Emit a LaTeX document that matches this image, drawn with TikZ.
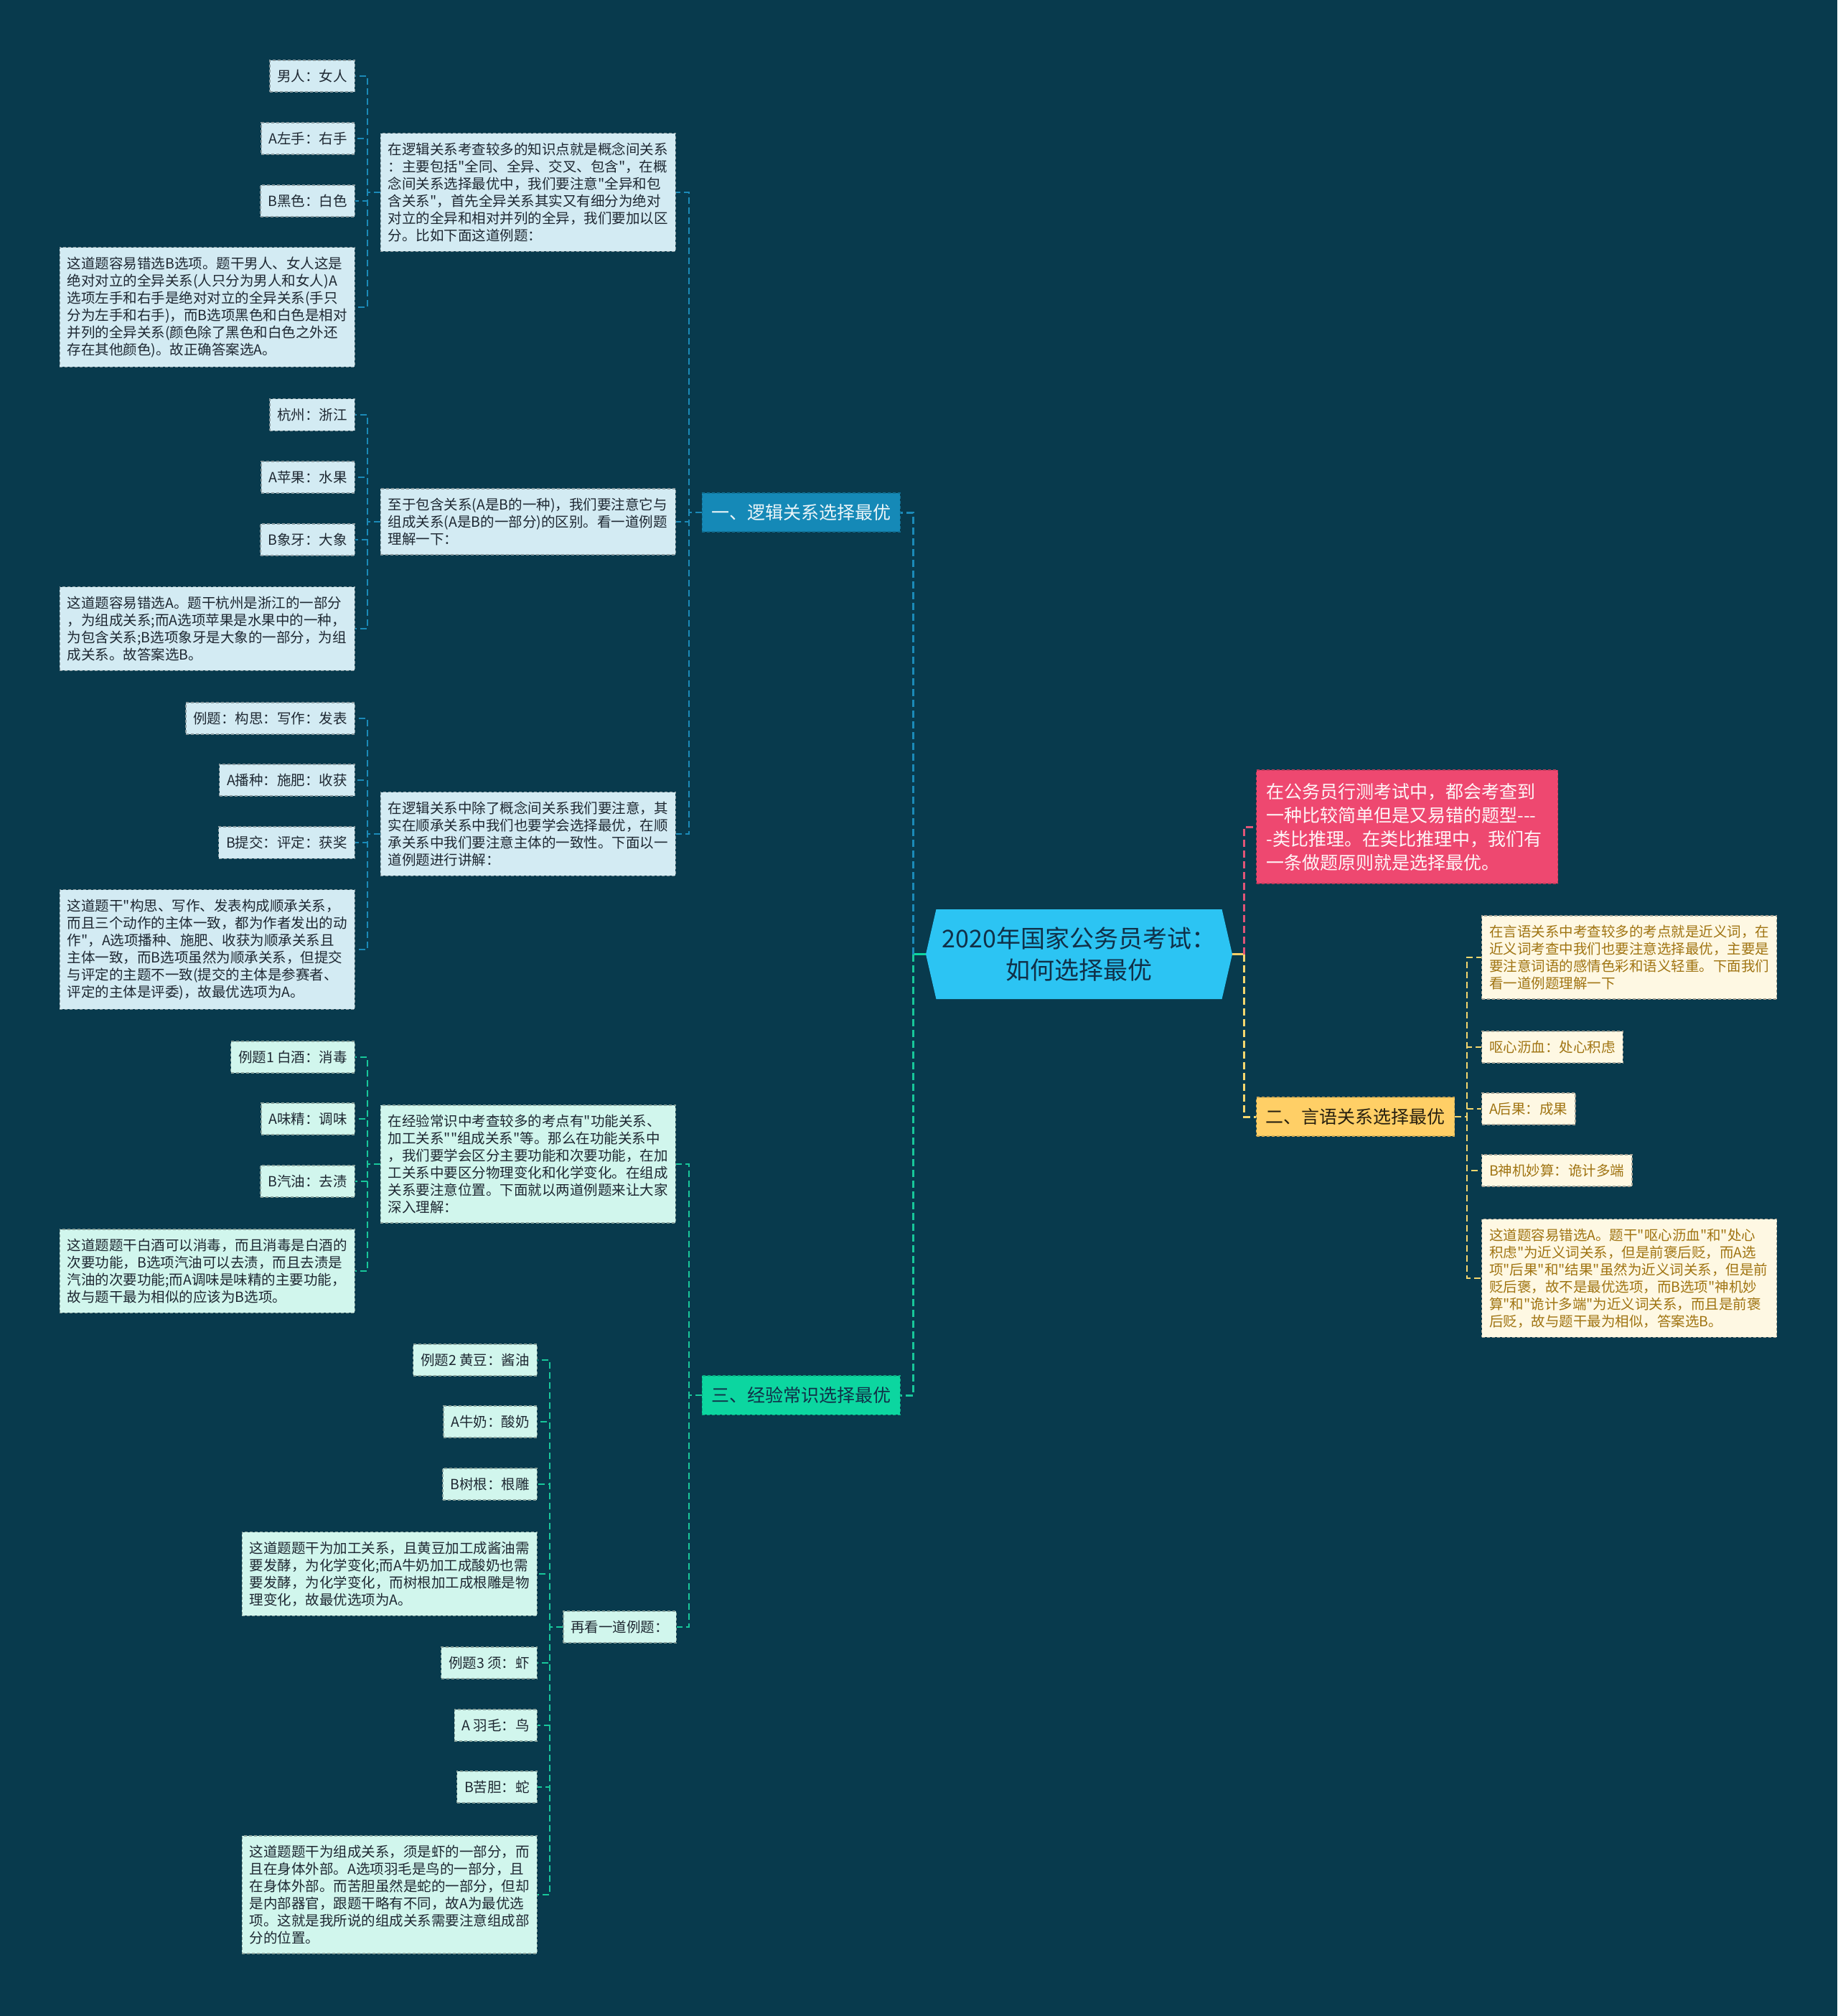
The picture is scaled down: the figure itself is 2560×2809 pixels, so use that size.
\documentclass[tikz,border=0pt]{standalone}
\usepackage{fontspec}
\setmainfont[Ligatures=TeXOff]{Noto Sans CJK SC}
\usetikzlibrary{shapes.symbols,calc}

\definecolor{bgcol}{RGB}{8,58,77}
\definecolor{hubcol}{RGB}{44,196,243}
\definecolor{hubink}{RGB}{16,48,72}
\definecolor{logiccol}{RGB}{21,137,183}
\definecolor{commoncol}{RGB}{12,214,160}
\definecolor{verbalcol}{RGB}{255,207,102}
\definecolor{introcol}{RGB}{238,72,112}
\definecolor{leafblue}{RGB}{211,235,243}
\definecolor{leafmint}{RGB}{209,246,237}
\definecolor{leafcream}{RGB}{254,248,227}
\definecolor{leafink}{RGB}{30,40,50}
\definecolor{creamink}{RGB}{160,116,18}
\definecolor{linered}{RGB}{224,85,119}
\definecolor{lineyellow}{RGB}{245,215,110}
\definecolor{lineblue}{RGB}{27,138,184}
\definecolor{linegreen}{RGB}{24,199,154}

\begin{document}
\begin{tikzpicture}[x=1pt,y=-1pt,
  every node/.style={align=left},
  hub/.style={signal,signal to=west and east,signal pointer angle=154,fill=hubcol,text=hubink,
    minimum width=427pt,minimum height=125pt,align=center,font=\fontsize{34}{44}\selectfont},
  branch/.style={rectangle,fill=#1,draw=#1!80!black,dash pattern=on 4pt off 3pt,line width=1.2pt,
    font=\fontsize{25}{30}\selectfont,inner xsep=13pt,inner ysep=15.5pt},
  lbox/.style={rectangle,fill=#1,draw=#1!65!black,dash pattern=on 4pt off 3pt,line width=1.2pt,
    text=leafink,font=\fontsize{19.5}{24}\selectfont,inner xsep=10.5pt,inner ysep=13pt},
  pbox/.style={lbox=#1,text width=390pt},
  lnk/.style={draw=#1,line width=2pt,dash pattern=on 9pt off 5pt},
  mainlnk/.style={draw=#1,line width=3pt,dash pattern=on 10pt off 5pt}
]
\fill[bgcol] (0,0) rectangle (2560,2809);
\useasboundingbox (0,0) rectangle (2560,2809);

% root and main branches
\node[hub] (root) at (1503.5,1329.5) {2020年国家公务员考试：\\如何选择最优};
\node[branch=logiccol,text=white!92!logiccol,anchor=east] (logic) at (1255,714) {一、逻辑关系选择最优};
\node[branch=commoncol,text=hubink,anchor=east] (common) at (1255,1944) {三、经验常识选择最优};
\node[branch=verbalcol,text=black!85!verbalcol,anchor=west] (verbal) at (1750,1556) {二、言语关系选择最优};
\node[rectangle,fill=introcol,draw=introcol!80!black,dash pattern=on 4pt off 3pt,line width=1.2pt,
  text=white!95!introcol,font=\fontsize{25}{33}\selectfont,text width=392pt,inner xsep=14pt,inner ysep=18pt,
  anchor=west] (intro) at (1750,1152)
  {在公务员行测考试中，都会考查到\\一种比较简单但是又易错的题型{-}{-}{-}\\-类比推理。在类比推理中，我们有\\一条做题原则就是选择最优。};

% logic branch
\node[pbox=leafblue,anchor=east] (p1) at (942,268) {在逻辑关系考查较多的知识点就是概念间关系\\：主要包括"全同、全异、交叉、包含"，在概\\念间关系选择最优中，我们要注意"全异和包\\含关系"，首先全异关系其实又有细分为绝对\\对立的全异和相对并列的全异，我们要加以区\\分。比如下面这道例题：};
\node[pbox=leafblue,anchor=east] (p2) at (942,727) {至于包含关系(A是B的一种)，我们要注意它与\\组成关系(A是B的一部分)的区别。看一道例题\\理解一下：};
\node[pbox=leafblue,anchor=east] (p3) at (942,1162) {在逻辑关系中除了概念间关系我们要注意，其\\实在顺承关系中我们也要学会选择最优，在顺\\承关系中我们要注意主体的一致性。下面以一\\道例题进行讲解：};

\node[lbox=leafblue,anchor=east] (a1) at (495,106) {男人：女人};
\node[lbox=leafblue,anchor=east] (a2) at (495,193) {A左手：右手};
\node[lbox=leafblue,anchor=east] (a3) at (495,280) {B黑色：白色};
\node[pbox=leafblue,anchor=east] (a4) at (495,428) {这道题容易错选B选项。题干男人、女人这是\\绝对对立的全异关系(人只分为男人和女人)A\\选项左手和右手是绝对对立的全异关系(手只\\分为左手和右手)，而B选项黑色和白色是相对\\并列的全异关系(颜色除了黑色和白色之外还\\存在其他颜色)。故正确答案选A。};

\node[lbox=leafblue,anchor=east] (b1) at (495,578) {杭州：浙江};
\node[lbox=leafblue,anchor=east] (b2) at (495,665) {A苹果：水果};
\node[lbox=leafblue,anchor=east] (b3) at (495,752) {B象牙：大象};
\node[pbox=leafblue,anchor=east] (b4) at (495,876) {这道题容易错选A。题干杭州是浙江的一部分\\，为组成关系;而A选项苹果是水果中的一种，\\为包含关系;B选项象牙是大象的一部分，为组\\成关系。故答案选B。};

\node[lbox=leafblue,anchor=east] (c1) at (495,1001) {例题：构思：写作：发表};
\node[lbox=leafblue,anchor=east] (c2) at (495,1087) {A播种：施肥：收获};
\node[lbox=leafblue,anchor=east] (c3) at (495,1174) {B提交：评定：获奖};
\node[pbox=leafblue,anchor=east] (c4) at (495,1323) {这道题干"构思、写作、发表构成顺承关系，\\而且三个动作的主体一致，都为作者发出的动\\作"，A选项播种、施肥、收获为顺承关系且\\主体一致，而B选项虽然为顺承关系，但提交\\与评定的主题不一致(提交的主体是参赛者、\\评定的主体是评委)，故最优选项为A。};

% common branch
\node[pbox=leafmint,anchor=east] (p4) at (942,1622) {在经验常识中考查较多的考点有"功能关系、\\加工关系""组成关系"等。那么在功能关系中\\，我们要学会区分主要功能和次要功能，在加\\工关系中要区分物理变化和化学变化。在组成\\关系要注意位置。下面就以两道例题来让大家\\深入理解：};
\node[lbox=leafmint,anchor=east] (again) at (943,2267) {再看一道例题：};

\node[lbox=leafmint,anchor=east] (d1) at (495,1473) {例题1 白酒：消毒};
\node[lbox=leafmint,anchor=east] (d2) at (495,1559) {A味精：调味};
\node[lbox=leafmint,anchor=east] (d3) at (495,1646) {B汽油：去渍};
\node[pbox=leafmint,anchor=east] (d4) at (495,1771) {这道题题干白酒可以消毒，而且消毒是白酒的\\次要功能，B选项汽油可以去渍，而且去渍是\\汽油的次要功能;而A调味是味精的主要功能，\\故与题干最为相似的应该为B选项。};

\node[lbox=leafmint,anchor=east] (e1) at (749,1895) {例题2 黄豆：酱油};
\node[lbox=leafmint,anchor=east] (e2) at (749,1981) {A牛奶：酸奶};
\node[lbox=leafmint,anchor=east] (e3) at (749,2068) {B树根：根雕};
\node[pbox=leafmint,anchor=east] (e4) at (749,2193) {这道题题干为加工关系，且黄豆加工成酱油需\\要发酵，为化学变化;而A牛奶加工成酸奶也需\\要发酵，为化学变化，而树根加工成根雕是物\\理变化，故最优选项为A。};
\node[lbox=leafmint,anchor=east] (e5) at (749,2317) {例题3 须：虾};
\node[lbox=leafmint,anchor=east] (e6) at (749,2404) {A 羽毛：鸟};
\node[lbox=leafmint,anchor=east] (e7) at (749,2490) {B苦胆：蛇};
\node[pbox=leafmint,anchor=east] (e8) at (749,2640) {这道题题干为组成关系，须是虾的一部分，而\\且在身体外部。A选项羽毛是鸟的一部分，且\\在身体外部。而苦胆虽然是蛇的一部分，但却\\是内部器官，跟题干略有不同，故A为最优选\\项。这就是我所说的组成关系需要注意组成部\\分的位置。};

% verbal branch
\node[pbox=leafcream,text=creamink,anchor=west] (f1) at (2064,1334) {在言语关系中考查较多的考点就是近义词，在\\近义词考查中我们也要注意选择最优，主要是\\要注意词语的感情色彩和语义轻重。下面我们\\看一道例题理解一下};
\node[lbox=leafcream,text=creamink,anchor=west] (f2) at (2064,1459) {呕心沥血：处心积虑};
\node[lbox=leafcream,text=creamink,anchor=west] (f3) at (2064,1545) {A后果：成果};
\node[lbox=leafcream,text=creamink,anchor=west] (f4) at (2064,1631) {B神机妙算：诡计多端};
\node[pbox=leafcream,text=creamink,anchor=west] (f5) at (2064,1781) {这道题容易错选A。题干"呕心沥血"和"处心\\积虑"为近义词关系，但是前褒后贬，而A选\\项"后果"和"结果"虽然为近义词关系，但是前\\贬后褒，故不是最优选项，而B选项"神机妙\\算"和"诡计多端"为近义词关系，而且是前褒\\后贬，故与题干最为相似，答案选B。};

% connectors
\coordinate (rl) at ($(root.west)+(-17.5,0)$);
\coordinate (rr) at ($(root.east)+(16.5,0)$);
\draw[commoncol,line width=3pt] (root.west) -- (rl);
\draw[verbalcol,line width=3pt] (root.east) -- (rr);
\draw[mainlnk=lineblue] (rl) |- (logic.east);
\draw[mainlnk=linegreen] (rl) |- (common.east);
\draw[mainlnk=linered] (rr) |- (intro.west);
\draw[mainlnk=lineyellow] (rr) |- (verbal.west);

\foreach \n in {p1,p2,p3}
  \draw[lnk=lineblue] (logic.west) -- ++(-18,0) |- (\n.east);
\foreach \n in {a1,a2,a3,a4}
  \draw[lnk=lineblue] (p1.west) -- ++(-18,0) |- (\n.east);
\foreach \n in {b1,b2,b3,b4}
  \draw[lnk=lineblue] (p2.west) -- ++(-18,0) |- (\n.east);
\foreach \n in {c1,c2,c3,c4}
  \draw[lnk=lineblue] (p3.west) -- ++(-18,0) |- (\n.east);

\foreach \n in {p4,again}
  \draw[lnk=linegreen] (common.west) -- ++(-18,0) |- (\n.east);
\foreach \n in {d1,d2,d3,d4}
  \draw[lnk=linegreen] (p4.west) -- ++(-18,0) |- (\n.east);
\foreach \n in {e1,e2,e3,e4,e5,e6,e7,e8}
  \draw[lnk=linegreen] (again.west) -- ++(-18,0) |- (\n.east);

\foreach \n in {f1,f2,f3,f4,f5}
  \draw[lnk=lineyellow] (verbal.east) -- ++(17,0) |- (\n.west);
\end{tikzpicture}
\end{document}
